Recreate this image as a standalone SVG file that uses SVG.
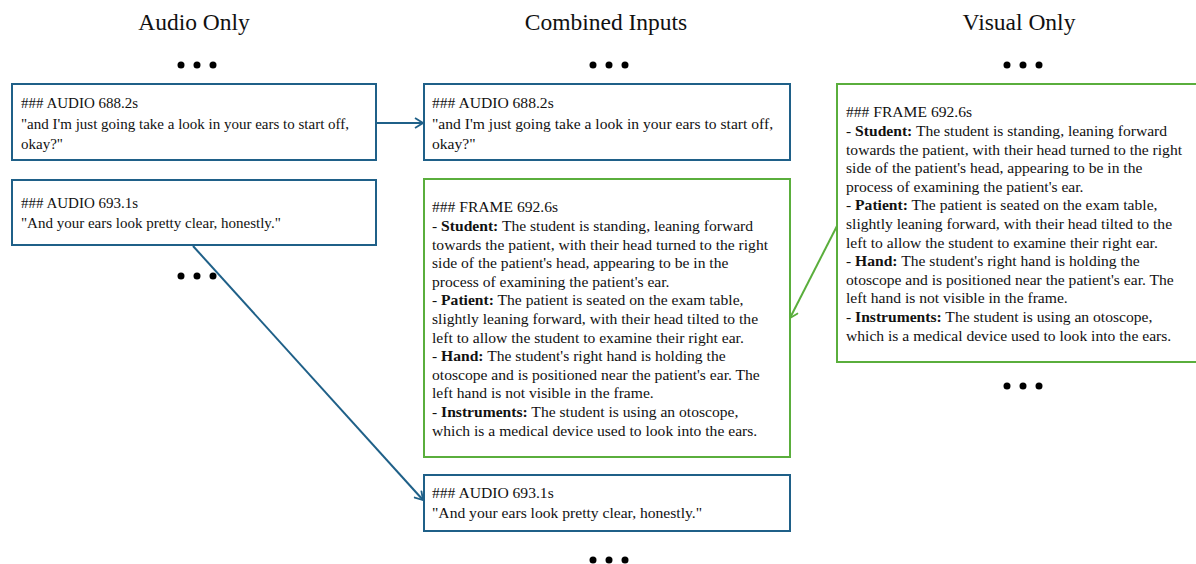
<svg xmlns="http://www.w3.org/2000/svg" width="1196" height="564" viewBox="0 0 1196 564">
<style>
.t{font-family:"Liberation Serif","Times New Roman",serif;font-size:15px;fill:#111}
.u{font-family:"Liberation Serif","Times New Roman",serif;font-size:15.6px;fill:#111}
.h{font-family:"Liberation Serif","Times New Roman",serif;font-size:23.5px;fill:#111;text-anchor:middle}
.b{font-weight:bold}
.blue{fill:#fff;stroke:#1f6088;stroke-width:2}
.green{fill:#fff;stroke:#5aae3c;stroke-width:2}
.dot{fill:#000}
</style>
<defs>
<marker id="ab" viewBox="0 0 10 12" refX="9" refY="6" markerWidth="10" markerHeight="12" markerUnits="userSpaceOnUse" orient="auto">
<path d="M1,1 L9,6 L1,11" fill="none" stroke="#1f6088" stroke-width="1.8"/>
</marker>
<marker id="ag" viewBox="0 0 10 12" refX="9" refY="6" markerWidth="10" markerHeight="12" markerUnits="userSpaceOnUse" orient="auto">
<path d="M1,1 L9,6 L1,11" fill="none" stroke="#5aae3c" stroke-width="1.8"/>
</marker>
<g id="dots"><circle cx="-16" cy="0" r="3.5"/><circle cx="0" cy="0" r="3.5"/><circle cx="16" cy="0" r="3.5"/></g>
</defs>

<g id="titles">
<text class="h" x="194" y="30">Audio Only</text>
<text class="h" x="606" y="30">Combined Inputs</text>
<text class="h" x="1019" y="30">Visual Only</text>
</g>

<g id="ellipses" class="dot">
<use href="#dots" x="197" y="65"/>
<use href="#dots" x="197" y="276"/>
<use href="#dots" x="609" y="65"/>
<use href="#dots" x="609" y="560"/>
<use href="#dots" x="1023" y="65"/>
<use href="#dots" x="1023" y="386"/>
</g>

<g id="connectors">
<line x1="377" y1="123" x2="423" y2="123" stroke="#1f6088" stroke-width="2" marker-end="url(#ab)"/>
<line x1="193" y1="246" x2="423" y2="500" stroke="#1f6088" stroke-width="2" marker-end="url(#ab)"/>
<line x1="838" y1="224" x2="790" y2="318" stroke="#5aae3c" stroke-width="2" marker-end="url(#ag)"/>
</g>

<g id="audio1">
<rect class="blue" x="12" y="84" width="364" height="76"/>
<text class="t" x="21" y="108">### AUDIO 688.2s</text>
<text class="t" x="21" y="129">"and I'm just going take a look in your ears to start off,</text>
<text class="t" x="21" y="149">okay?"</text>
</g>

<g id="audio2">
<rect class="blue" x="12" y="180" width="364" height="65"/>
<text class="t" x="21" y="208">### AUDIO 693.1s</text>
<text class="t" x="21" y="228">"And your ears look pretty clear, honestly."</text>
</g>

<g id="combined1">
<rect class="blue" x="424" y="84" width="366" height="76"/>
<text class="u" x="432" y="108">### AUDIO 688.2s</text>
<text class="u" x="432" y="129">"and I'm just going take a look in your ears to start off,</text>
<text class="u" x="432" y="149">okay?"</text>
</g>

<g id="combined2">
<rect class="green" x="424" y="179" width="366" height="278"/>
<text class="u" x="432" y="212">### FRAME 692.6s</text>
<text class="u" x="432" y="231">- <tspan class="b">Student:</tspan> The student is standing, leaning forward</text>
<text class="u" x="432" y="250">towards the patient, with their head turned to the right</text>
<text class="u" x="432" y="268">side of the patient's head, appearing to be in the</text>
<text class="u" x="432" y="287">process of examining the patient's ear.</text>
<text class="u" x="432" y="305">- <tspan class="b">Patient:</tspan> The patient is seated on the exam table,</text>
<text class="u" x="432" y="324">slightly leaning forward, with their head tilted to the</text>
<text class="u" x="432" y="343">left to allow the student to examine their right ear.</text>
<text class="u" x="432" y="361">- <tspan class="b">Hand:</tspan> The student's right hand is holding the</text>
<text class="u" x="432" y="380">otoscope and is positioned near the patient's ear. The</text>
<text class="u" x="432" y="398">left hand is not visible in the frame.</text>
<text class="u" x="432" y="417">- <tspan class="b">Instruments:</tspan> The student is using an otoscope,</text>
<text class="u" x="432" y="436">which is a medical device used to look into the ears.</text>
</g>

<g id="combined3">
<rect class="blue" x="424" y="475" width="366" height="56"/>
<text class="u" x="432" y="498">### AUDIO 693.1s</text>
<text class="u" x="432" y="518">"And your ears look pretty clear, honestly."</text>
</g>

<g id="visual1">
<rect class="green" x="837" y="84" width="370" height="278"/>
<text class="u" x="846" y="117">### FRAME 692.6s</text>
<text class="u" x="846" y="136">- <tspan class="b">Student:</tspan> The student is standing, leaning forward</text>
<text class="u" x="846" y="155">towards the patient, with their head turned to the right</text>
<text class="u" x="846" y="173">side of the patient's head, appearing to be in the</text>
<text class="u" x="846" y="192">process of examining the patient's ear.</text>
<text class="u" x="846" y="210">- <tspan class="b">Patient:</tspan> The patient is seated on the exam table,</text>
<text class="u" x="846" y="229">slightly leaning forward, with their head tilted to the</text>
<text class="u" x="846" y="248">left to allow the student to examine their right ear.</text>
<text class="u" x="846" y="266">- <tspan class="b">Hand:</tspan> The student's right hand is holding the</text>
<text class="u" x="846" y="285">otoscope and is positioned near the patient's ear. The</text>
<text class="u" x="846" y="303">left hand is not visible in the frame.</text>
<text class="u" x="846" y="322">- <tspan class="b">Instruments:</tspan> The student is using an otoscope,</text>
<text class="u" x="846" y="341">which is a medical device used to look into the ears.</text>
</g>
</svg>
